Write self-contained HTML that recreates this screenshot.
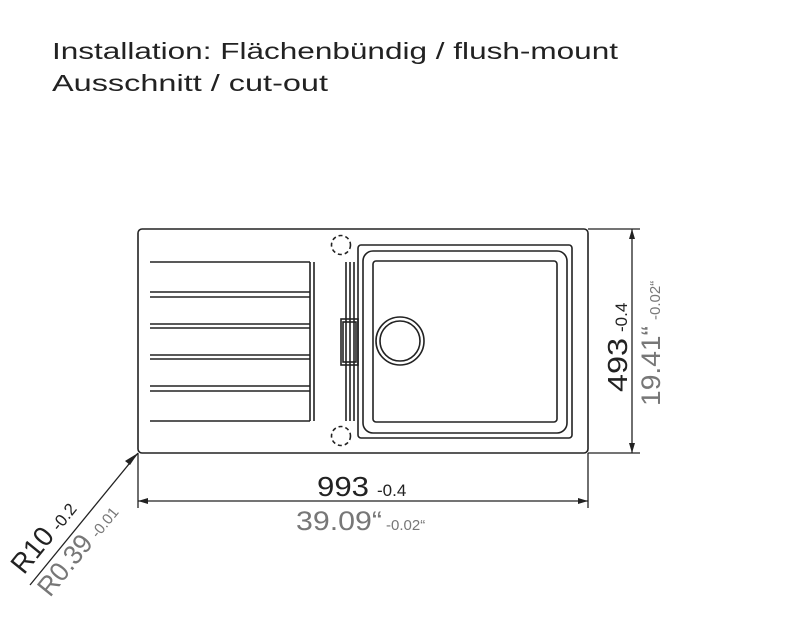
<!DOCTYPE html>
<html><head><style>html,body{margin:0;padding:0;background:#fff}svg{display:block}</style></head>
<body>
<svg width="800" height="619" viewBox="0 0 800 619" xmlns="http://www.w3.org/2000/svg" font-family="Liberation Sans, sans-serif">
<text x="52" y="59" font-size="23" fill="#222" textLength="566" lengthAdjust="spacingAndGlyphs">Installation: Flächenbündig / flush-mount</text>
<text x="52" y="91" font-size="23" fill="#222" textLength="276" lengthAdjust="spacingAndGlyphs">Ausschnitt / cut-out</text>
<g fill="none" stroke="#222" stroke-width="1.6">
<rect x="138" y="229" width="450" height="224" rx="4"/>
<circle cx="341" cy="245" r="9.5" stroke-dasharray="4,3"/>
<circle cx="341" cy="436" r="9.5" stroke-dasharray="4,3"/>
<rect x="358" y="245" width="214" height="193" rx="3"/>
<rect x="363" y="251" width="204" height="182" rx="10"/>
<rect x="373" y="261" width="184" height="161" rx="3"/>
<circle cx="400" cy="341" r="24"/>
<circle cx="400" cy="341" r="20"/>
<path d="M150 262H310 M150 292H310 M150 297H310 M150 324H310 M150 328H310 M150 355H310 M150 359H310 M150 386H310 M150 391H310 M150 421H310"/>
<path d="M310 262V421 M314 262V421 M346 262V421 M350 262V421 M354 262V421"/>
<rect x="341" y="319" width="17" height="46"/>
<rect x="343" y="322" width="13" height="40"/>
</g>
<g stroke="#222" stroke-width="1.3" fill="none">
<path d="M138 453V508 M588 453V508 M138 501H588"/>
<path d="M588 229H640 M588 453H640 M632 229V453"/>
<path d="M138 453L30 585"/>
</g>
<g fill="#222">
<path d="M138 501l10 -3v6z M588 501l-10 -3v6z"/>
<path d="M632 229l-3 10h6z M632 453l-3 -10h6z"/>
<path d="M138 453l-13 8l5 4z"/>
</g>
<text x="317" y="496" font-size="28" fill="#222" textLength="52" lengthAdjust="spacingAndGlyphs">993</text>
<text x="377" y="496" font-size="17" fill="#222">-0.4</text>
<text x="296" y="530" font-size="27" fill="#777" textLength="86" lengthAdjust="spacingAndGlyphs">39.09“</text>
<text x="386" y="530" font-size="15" fill="#777">-0.02“</text>
<g transform="translate(627,392) rotate(-90)">
<text x="0" y="0" font-size="28" fill="#222" textLength="54" lengthAdjust="spacingAndGlyphs">493</text>
<text x="60" y="0" font-size="17" fill="#222">-0.4</text>
</g>
<g transform="translate(660,406) rotate(-90)">
<text x="0" y="0" font-size="27" fill="#777" textLength="80" lengthAdjust="spacingAndGlyphs">19.41“</text>
<text x="86" y="0" font-size="15" fill="#777">-0.02“</text>
</g>
<g transform="translate(27,578) rotate(-51)">
<text x="0" y="-4" font-size="28" fill="#222" textLength="50" lengthAdjust="spacingAndGlyphs">R10</text>
<text x="56" y="-4" font-size="17" fill="#222">-0.2</text>
</g>
<g transform="translate(50,598) rotate(-51)">
<text x="0" y="0" font-size="27" fill="#777" textLength="70" lengthAdjust="spacingAndGlyphs">R0.39</text>
<text x="76" y="0" font-size="15" fill="#777">-0.01</text>
</g>
</svg>
</body></html>
